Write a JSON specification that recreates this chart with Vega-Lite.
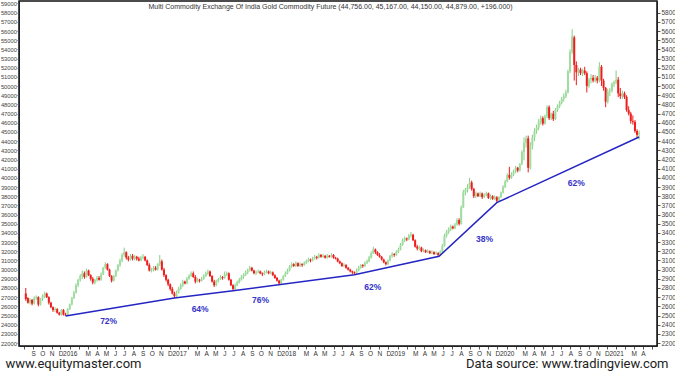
{
"$schema":"https://vega.github.io/schema/vega-lite/v6.json",
"autosize":{"type":"none"},
"width":638,"height":345,
"padding":{"left":19,"top":1,"right":18,"bottom":27},
"background":"white",
"config":{"view":{"stroke":"#111","strokeWidth":1.5}},
"datasets":{
"candles":[
{"d":"2015-08-07","o":27400,"h":28000,"l":26600,"c":26800},
{"d":"2015-08-14","o":26900,"h":27000,"l":26300,"c":26400},
{"d":"2015-08-21","o":26400,"h":26900,"l":26200,"c":26700},
{"d":"2015-08-28","o":26700,"h":26800,"l":26100,"c":26300},
{"d":"2015-09-04","o":26300,"h":27100,"l":26200,"c":26900},
{"d":"2015-09-11","o":26900,"h":27200,"l":26700,"c":27000},
{"d":"2015-09-18","o":27000,"h":27100,"l":26000,"c":26200},
{"d":"2015-09-25","o":26200,"h":26900,"l":26100,"c":26800},
{"d":"2015-10-02","o":26800,"h":27300,"l":26600,"c":27100},
{"d":"2015-10-09","o":27100,"h":27600,"l":26900,"c":27400},
{"d":"2015-10-16","o":27400,"h":27500,"l":26900,"c":27000},
{"d":"2015-10-23","o":27000,"h":27100,"l":26200,"c":26400},
{"d":"2015-10-30","o":26400,"h":26500,"l":25800,"c":25900},
{"d":"2015-11-06","o":25900,"h":26000,"l":25400,"c":25600},
{"d":"2015-11-13","o":25600,"h":25900,"l":25400,"c":25700},
{"d":"2015-11-20","o":25700,"h":25800,"l":25200,"c":25300},
{"d":"2015-11-27","o":25300,"h":25400,"l":25000,"c":25100},
{"d":"2015-12-04","o":25100,"h":25700,"l":25000,"c":25600},
{"d":"2015-12-11","o":25600,"h":25700,"l":25000,"c":25100},
{"d":"2015-12-18","o":25100,"h":25300,"l":24950,"c":25000},
{"d":"2015-12-25","o":25000,"h":25800,"l":24950,"c":25700},
{"d":"2016-01-01","o":25700,"h":26300,"l":25600,"c":26200},
{"d":"2016-01-08","o":26200,"h":27000,"l":26100,"c":26900},
{"d":"2016-01-15","o":26900,"h":27700,"l":26800,"c":27500},
{"d":"2016-01-22","o":27500,"h":28500,"l":27400,"c":28300},
{"d":"2016-01-29","o":28300,"h":29000,"l":28100,"c":28900},
{"d":"2016-02-05","o":28900,"h":29500,"l":28700,"c":29300},
{"d":"2016-02-12","o":29300,"h":29900,"l":29000,"c":29600},
{"d":"2016-02-19","o":29600,"h":29800,"l":29000,"c":29200},
{"d":"2016-02-26","o":29200,"h":30100,"l":29100,"c":29900},
{"d":"2016-03-04","o":29900,"h":30000,"l":29300,"c":29400},
{"d":"2016-03-11","o":29400,"h":29500,"l":28800,"c":29000},
{"d":"2016-03-18","o":29000,"h":29200,"l":28400,"c":28600},
{"d":"2016-03-25","o":28600,"h":29000,"l":28400,"c":28900},
{"d":"2016-04-01","o":28900,"h":29300,"l":28700,"c":29100},
{"d":"2016-04-08","o":29100,"h":29300,"l":28800,"c":28900},
{"d":"2016-04-15","o":28900,"h":29700,"l":28800,"c":29500},
{"d":"2016-04-22","o":29500,"h":30300,"l":29400,"c":30200},
{"d":"2016-04-29","o":30200,"h":30800,"l":30100,"c":30600},
{"d":"2016-05-06","o":30600,"h":30700,"l":29900,"c":30000},
{"d":"2016-05-13","o":30000,"h":30100,"l":29200,"c":29300},
{"d":"2016-05-20","o":29300,"h":29400,"l":28600,"c":28800},
{"d":"2016-05-27","o":28800,"h":29400,"l":28700,"c":29300},
{"d":"2016-06-03","o":29300,"h":30000,"l":29200,"c":29900},
{"d":"2016-06-10","o":29900,"h":30600,"l":29800,"c":30500},
{"d":"2016-06-17","o":30500,"h":31200,"l":30300,"c":31000},
{"d":"2016-06-24","o":31000,"h":31800,"l":30800,"c":31600},
{"d":"2016-07-01","o":31600,"h":32400,"l":31400,"c":31900},
{"d":"2016-07-08","o":31900,"h":32000,"l":31100,"c":31300},
{"d":"2016-07-15","o":31300,"h":31500,"l":30900,"c":31100},
{"d":"2016-07-22","o":31100,"h":31700,"l":31000,"c":31500},
{"d":"2016-07-29","o":31500,"h":31700,"l":31000,"c":31200},
{"d":"2016-08-05","o":31200,"h":31600,"l":31000,"c":31400},
{"d":"2016-08-12","o":31400,"h":31500,"l":31000,"c":31200},
{"d":"2016-08-19","o":31200,"h":31400,"l":30900,"c":31000},
{"d":"2016-08-26","o":31000,"h":31500,"l":30900,"c":31300},
{"d":"2016-09-02","o":31300,"h":31700,"l":31100,"c":31400},
{"d":"2016-09-09","o":31400,"h":31500,"l":30900,"c":31000},
{"d":"2016-09-16","o":31000,"h":31100,"l":30400,"c":30500},
{"d":"2016-09-23","o":30500,"h":30700,"l":29800,"c":29900},
{"d":"2016-09-30","o":29900,"h":30200,"l":29700,"c":30000},
{"d":"2016-10-07","o":30000,"h":30400,"l":29800,"c":30200},
{"d":"2016-10-14","o":30200,"h":30400,"l":29900,"c":30000},
{"d":"2016-10-21","o":30000,"h":30700,"l":29900,"c":30600},
{"d":"2016-10-28","o":30600,"h":31600,"l":30400,"c":30900},
{"d":"2016-11-04","o":30900,"h":31100,"l":29900,"c":30000},
{"d":"2016-11-11","o":30000,"h":30200,"l":29200,"c":29400},
{"d":"2016-11-18","o":29400,"h":29500,"l":28700,"c":28900},
{"d":"2016-11-25","o":28900,"h":29000,"l":28200,"c":28400},
{"d":"2016-12-02","o":28400,"h":28500,"l":27700,"c":27900},
{"d":"2016-12-09","o":27900,"h":28100,"l":27300,"c":27400},
{"d":"2016-12-16","o":27400,"h":27600,"l":26900,"c":27100},
{"d":"2016-12-23","o":27100,"h":27700,"l":27000,"c":27500},
{"d":"2016-12-30","o":27500,"h":28100,"l":27400,"c":27900},
{"d":"2017-01-06","o":27900,"h":28500,"l":27800,"c":28300},
{"d":"2017-01-13","o":28300,"h":28900,"l":28100,"c":28700},
{"d":"2017-01-20","o":28700,"h":28800,"l":28400,"c":28500},
{"d":"2017-01-27","o":28500,"h":29200,"l":28400,"c":29000},
{"d":"2017-02-03","o":29000,"h":29500,"l":28900,"c":29300},
{"d":"2017-02-10","o":29300,"h":29800,"l":29200,"c":29600},
{"d":"2017-02-17","o":29600,"h":29800,"l":29100,"c":29200},
{"d":"2017-02-24","o":29200,"h":29400,"l":28500,"c":28700},
{"d":"2017-03-03","o":28700,"h":29100,"l":28600,"c":28900},
{"d":"2017-03-10","o":28900,"h":29000,"l":28600,"c":28800},
{"d":"2017-03-17","o":28800,"h":29200,"l":28700,"c":29000},
{"d":"2017-03-24","o":29000,"h":29500,"l":28900,"c":29300},
{"d":"2017-03-31","o":29300,"h":29800,"l":29200,"c":29600},
{"d":"2017-04-07","o":29600,"h":30000,"l":29400,"c":29800},
{"d":"2017-04-14","o":29800,"h":29900,"l":29200,"c":29300},
{"d":"2017-04-21","o":29300,"h":29400,"l":28600,"c":28700},
{"d":"2017-04-28","o":28700,"h":28900,"l":28100,"c":28300},
{"d":"2017-05-05","o":28300,"h":28900,"l":28200,"c":28800},
{"d":"2017-05-12","o":28800,"h":29100,"l":28600,"c":29000},
{"d":"2017-05-19","o":29000,"h":29400,"l":28900,"c":29200},
{"d":"2017-05-26","o":29200,"h":29300,"l":28900,"c":29100},
{"d":"2017-06-02","o":29100,"h":29800,"l":29000,"c":29500},
{"d":"2017-06-09","o":29500,"h":29800,"l":29300,"c":29600},
{"d":"2017-06-16","o":29600,"h":29700,"l":28800,"c":28900},
{"d":"2017-06-23","o":28900,"h":29000,"l":28200,"c":28300},
{"d":"2017-06-30","o":28300,"h":28400,"l":27700,"c":27900},
{"d":"2017-07-07","o":27900,"h":28500,"l":27800,"c":28300},
{"d":"2017-07-14","o":28300,"h":28800,"l":28200,"c":28600},
{"d":"2017-07-21","o":28600,"h":29100,"l":28500,"c":28900},
{"d":"2017-07-28","o":28900,"h":29400,"l":28800,"c":29200},
{"d":"2017-08-04","o":29200,"h":29600,"l":29000,"c":29400},
{"d":"2017-08-11","o":29400,"h":29900,"l":29300,"c":29700},
{"d":"2017-08-18","o":29700,"h":30100,"l":29500,"c":29900},
{"d":"2017-08-25","o":29900,"h":30400,"l":29800,"c":30200},
{"d":"2017-09-01","o":30200,"h":30300,"l":29800,"c":29900},
{"d":"2017-09-08","o":29900,"h":30000,"l":29500,"c":29600},
{"d":"2017-09-15","o":29600,"h":29900,"l":29400,"c":29700},
{"d":"2017-09-22","o":29700,"h":30000,"l":29600,"c":29800},
{"d":"2017-09-29","o":29800,"h":29900,"l":29500,"c":29600},
{"d":"2017-10-06","o":29600,"h":29700,"l":29300,"c":29500},
{"d":"2017-10-13","o":29500,"h":29900,"l":29400,"c":29700},
{"d":"2017-10-20","o":29700,"h":30000,"l":29600,"c":29800},
{"d":"2017-10-27","o":29800,"h":29900,"l":29500,"c":29600},
{"d":"2017-11-03","o":29600,"h":29900,"l":29500,"c":29700},
{"d":"2017-11-10","o":29700,"h":29800,"l":29300,"c":29400},
{"d":"2017-11-17","o":29400,"h":29500,"l":29000,"c":29100},
{"d":"2017-11-24","o":29100,"h":29200,"l":28700,"c":28800},
{"d":"2017-12-01","o":28800,"h":28900,"l":28350,"c":28500},
{"d":"2017-12-08","o":28500,"h":29000,"l":28400,"c":28900},
{"d":"2017-12-15","o":28900,"h":29400,"l":28800,"c":29300},
{"d":"2017-12-22","o":29300,"h":29800,"l":29200,"c":29600},
{"d":"2017-12-29","o":29600,"h":30100,"l":29500,"c":29900},
{"d":"2018-01-05","o":29900,"h":30500,"l":29800,"c":30300},
{"d":"2018-01-12","o":30300,"h":30800,"l":30200,"c":30600},
{"d":"2018-01-19","o":30600,"h":30700,"l":30300,"c":30400},
{"d":"2018-01-26","o":30400,"h":30900,"l":30300,"c":30700},
{"d":"2018-02-02","o":30700,"h":30800,"l":30300,"c":30400},
{"d":"2018-02-09","o":30400,"h":30800,"l":30300,"c":30600},
{"d":"2018-02-16","o":30600,"h":30700,"l":30300,"c":30500},
{"d":"2018-02-23","o":30500,"h":30900,"l":30400,"c":30700},
{"d":"2018-03-02","o":30700,"h":31100,"l":30600,"c":30900},
{"d":"2018-03-09","o":30900,"h":31300,"l":30800,"c":31100},
{"d":"2018-03-16","o":31100,"h":31200,"l":30800,"c":31000},
{"d":"2018-03-23","o":31000,"h":31400,"l":30900,"c":31200},
{"d":"2018-03-30","o":31200,"h":31600,"l":31100,"c":31400},
{"d":"2018-04-06","o":31400,"h":31500,"l":31100,"c":31300},
{"d":"2018-04-13","o":31300,"h":31800,"l":31200,"c":31600},
{"d":"2018-04-20","o":31600,"h":31700,"l":31300,"c":31400},
{"d":"2018-04-27","o":31400,"h":31700,"l":31300,"c":31500},
{"d":"2018-05-04","o":31500,"h":31600,"l":31200,"c":31300},
{"d":"2018-05-11","o":31300,"h":31700,"l":31200,"c":31500},
{"d":"2018-05-18","o":31500,"h":31600,"l":31300,"c":31400},
{"d":"2018-05-25","o":31400,"h":31800,"l":31300,"c":31600},
{"d":"2018-06-01","o":31600,"h":31700,"l":31200,"c":31300},
{"d":"2018-06-08","o":31300,"h":31400,"l":31100,"c":31200},
{"d":"2018-06-15","o":31200,"h":31300,"l":30800,"c":30900},
{"d":"2018-06-22","o":30900,"h":31000,"l":30600,"c":30700},
{"d":"2018-06-29","o":30700,"h":30800,"l":30300,"c":30400},
{"d":"2018-07-06","o":30400,"h":30700,"l":30300,"c":30500},
{"d":"2018-07-13","o":30500,"h":30600,"l":30100,"c":30200},
{"d":"2018-07-20","o":30200,"h":30300,"l":29900,"c":30000},
{"d":"2018-07-27","o":30000,"h":30100,"l":29700,"c":29800},
{"d":"2018-08-03","o":29800,"h":29900,"l":29500,"c":29700},
{"d":"2018-08-10","o":29700,"h":29800,"l":29450,"c":29600},
{"d":"2018-08-17","o":29600,"h":30100,"l":29500,"c":29900},
{"d":"2018-08-24","o":29900,"h":30400,"l":29800,"c":30200},
{"d":"2018-08-31","o":30200,"h":30600,"l":30100,"c":30500},
{"d":"2018-09-07","o":30500,"h":30600,"l":30200,"c":30400},
{"d":"2018-09-14","o":30400,"h":30900,"l":30300,"c":30700},
{"d":"2018-09-21","o":30700,"h":31100,"l":30600,"c":30900},
{"d":"2018-09-28","o":30900,"h":31500,"l":30800,"c":31300},
{"d":"2018-10-05","o":31300,"h":32000,"l":31200,"c":31800},
{"d":"2018-10-12","o":31800,"h":32500,"l":31700,"c":32200},
{"d":"2018-10-19","o":32200,"h":32300,"l":31700,"c":31900},
{"d":"2018-10-26","o":31900,"h":32000,"l":31500,"c":31600},
{"d":"2018-11-02","o":31600,"h":31800,"l":31300,"c":31400},
{"d":"2018-11-09","o":31400,"h":31500,"l":31000,"c":31100},
{"d":"2018-11-16","o":31100,"h":31200,"l":30700,"c":30800},
{"d":"2018-11-23","o":30800,"h":30900,"l":30450,"c":30600},
{"d":"2018-11-30","o":30600,"h":31100,"l":30500,"c":31000},
{"d":"2018-12-07","o":31000,"h":31600,"l":30900,"c":31500},
{"d":"2018-12-14","o":31500,"h":31900,"l":31300,"c":31700},
{"d":"2018-12-21","o":31700,"h":31800,"l":31400,"c":31600},
{"d":"2018-12-28","o":31600,"h":32100,"l":31500,"c":31900},
{"d":"2019-01-04","o":31900,"h":32400,"l":31800,"c":32200},
{"d":"2019-01-11","o":32200,"h":32900,"l":32100,"c":32700},
{"d":"2019-01-18","o":32700,"h":33400,"l":32600,"c":33200},
{"d":"2019-01-25","o":33200,"h":33600,"l":33000,"c":33400},
{"d":"2019-02-01","o":33400,"h":33500,"l":33100,"c":33300},
{"d":"2019-02-08","o":33300,"h":33900,"l":33200,"c":33700},
{"d":"2019-02-15","o":33700,"h":34100,"l":33500,"c":33800},
{"d":"2019-02-22","o":33800,"h":33900,"l":33100,"c":33200},
{"d":"2019-03-01","o":33200,"h":33300,"l":32400,"c":32500},
{"d":"2019-03-08","o":32500,"h":32700,"l":32100,"c":32300},
{"d":"2019-03-15","o":32300,"h":32600,"l":32100,"c":32400},
{"d":"2019-03-22","o":32400,"h":32500,"l":31900,"c":32000},
{"d":"2019-03-29","o":32000,"h":32300,"l":31900,"c":32100},
{"d":"2019-04-05","o":32100,"h":32200,"l":31800,"c":31900},
{"d":"2019-04-12","o":31900,"h":32200,"l":31800,"c":32000},
{"d":"2019-04-19","o":32000,"h":32100,"l":31700,"c":31800},
{"d":"2019-04-26","o":31800,"h":32100,"l":31700,"c":31900},
{"d":"2019-05-03","o":31900,"h":32000,"l":31600,"c":31700},
{"d":"2019-05-10","o":31700,"h":32000,"l":31600,"c":31800},
{"d":"2019-05-17","o":31800,"h":31900,"l":31450,"c":31600},
{"d":"2019-05-24","o":31600,"h":32100,"l":31500,"c":32000},
{"d":"2019-05-31","o":32000,"h":32800,"l":31900,"c":32600},
{"d":"2019-06-07","o":32600,"h":33900,"l":32500,"c":33700},
{"d":"2019-06-14","o":33700,"h":34300,"l":33500,"c":34100},
{"d":"2019-06-21","o":34100,"h":34600,"l":33900,"c":34400},
{"d":"2019-06-28","o":34400,"h":34900,"l":34200,"c":34700},
{"d":"2019-07-05","o":34700,"h":34800,"l":34400,"c":34500},
{"d":"2019-07-12","o":34500,"h":35100,"l":34400,"c":34900},
{"d":"2019-07-19","o":34900,"h":35600,"l":34800,"c":35400},
{"d":"2019-07-26","o":35400,"h":35600,"l":34800,"c":35000},
{"d":"2019-08-02","o":35000,"h":37000,"l":34900,"c":36800},
{"d":"2019-08-09","o":36800,"h":38700,"l":36700,"c":38400},
{"d":"2019-08-16","o":38400,"h":38900,"l":38100,"c":38700},
{"d":"2019-08-23","o":38700,"h":39300,"l":38400,"c":39000},
{"d":"2019-08-30","o":39000,"h":40000,"l":38800,"c":39500},
{"d":"2019-09-06","o":39500,"h":39700,"l":38600,"c":38800},
{"d":"2019-09-13","o":38800,"h":38900,"l":37800,"c":38000},
{"d":"2019-09-20","o":38000,"h":38500,"l":37800,"c":38300},
{"d":"2019-09-27","o":38300,"h":38400,"l":37900,"c":38000},
{"d":"2019-10-04","o":38000,"h":38500,"l":37900,"c":38300},
{"d":"2019-10-11","o":38300,"h":38400,"l":37700,"c":37900},
{"d":"2019-10-18","o":37900,"h":38300,"l":37800,"c":38100},
{"d":"2019-10-25","o":38100,"h":38500,"l":38000,"c":38300},
{"d":"2019-11-01","o":38300,"h":38400,"l":37700,"c":37800},
{"d":"2019-11-08","o":37800,"h":38200,"l":37600,"c":38000},
{"d":"2019-11-15","o":38000,"h":38100,"l":37600,"c":37700},
{"d":"2019-11-22","o":37700,"h":38100,"l":37600,"c":37900},
{"d":"2019-11-29","o":37900,"h":38000,"l":37300,"c":37500},
{"d":"2019-12-06","o":37500,"h":38000,"l":37400,"c":37900},
{"d":"2019-12-13","o":37900,"h":38500,"l":37800,"c":38400},
{"d":"2019-12-20","o":38400,"h":39200,"l":38300,"c":39000},
{"d":"2019-12-27","o":39000,"h":39800,"l":38900,"c":39600},
{"d":"2020-01-03","o":39600,"h":40500,"l":39500,"c":40300},
{"d":"2020-01-10","o":40300,"h":41200,"l":39800,"c":40000},
{"d":"2020-01-17","o":40000,"h":40600,"l":39900,"c":40400},
{"d":"2020-01-24","o":40400,"h":40900,"l":40200,"c":40700},
{"d":"2020-01-31","o":40700,"h":41300,"l":40500,"c":41100},
{"d":"2020-02-07","o":41100,"h":41200,"l":40600,"c":40800},
{"d":"2020-02-14","o":40800,"h":41600,"l":40700,"c":41500},
{"d":"2020-02-21","o":41500,"h":43000,"l":41400,"c":42800},
{"d":"2020-02-28","o":42800,"h":44400,"l":41900,"c":43800},
{"d":"2020-03-06","o":43800,"h":44600,"l":43300,"c":44300},
{"d":"2020-03-13","o":44300,"h":44600,"l":40600,"c":41100},
{"d":"2020-03-20","o":41100,"h":43900,"l":40900,"c":43500},
{"d":"2020-03-27","o":43500,"h":44700,"l":43100,"c":44400},
{"d":"2020-04-03","o":44400,"h":45400,"l":44000,"c":45100},
{"d":"2020-04-10","o":45100,"h":45800,"l":44800,"c":45500},
{"d":"2020-04-17","o":45500,"h":46400,"l":45200,"c":46100},
{"d":"2020-04-24","o":46100,"h":46800,"l":45800,"c":46500},
{"d":"2020-05-01","o":46500,"h":46700,"l":45700,"c":45900},
{"d":"2020-05-08","o":45900,"h":46900,"l":45800,"c":46700},
{"d":"2020-05-15","o":46700,"h":47900,"l":46500,"c":47700},
{"d":"2020-05-22","o":47700,"h":47900,"l":46300,"c":46500},
{"d":"2020-05-29","o":46500,"h":47100,"l":46300,"c":47000},
{"d":"2020-06-05","o":47000,"h":47300,"l":46200,"c":46400},
{"d":"2020-06-12","o":46400,"h":47600,"l":46300,"c":47400},
{"d":"2020-06-19","o":47400,"h":48000,"l":47200,"c":47800},
{"d":"2020-06-26","o":47800,"h":48400,"l":47600,"c":48200},
{"d":"2020-07-03","o":48200,"h":48800,"l":48000,"c":48600},
{"d":"2020-07-10","o":48600,"h":49200,"l":48300,"c":48900},
{"d":"2020-07-17","o":48900,"h":49600,"l":48700,"c":49300},
{"d":"2020-07-24","o":49300,"h":51800,"l":49200,"c":51600},
{"d":"2020-07-31","o":51600,"h":54000,"l":51400,"c":53700},
{"d":"2020-08-07","o":53700,"h":56200,"l":53500,"c":55400},
{"d":"2020-08-14","o":55300,"h":55500,"l":50600,"c":52300},
{"d":"2020-08-21","o":52300,"h":52700,"l":50100,"c":51500},
{"d":"2020-08-28","o":51500,"h":52000,"l":51100,"c":51800},
{"d":"2020-09-04","o":51800,"h":52000,"l":51200,"c":51400},
{"d":"2020-09-11","o":51400,"h":51900,"l":51100,"c":51700},
{"d":"2020-09-18","o":51700,"h":52100,"l":51200,"c":51400},
{"d":"2020-09-25","o":51400,"h":51600,"l":49300,"c":50000},
{"d":"2020-10-02","o":50000,"h":50900,"l":49800,"c":50700},
{"d":"2020-10-09","o":50700,"h":51300,"l":50300,"c":50900},
{"d":"2020-10-16","o":50900,"h":51200,"l":50400,"c":50600},
{"d":"2020-10-23","o":50600,"h":51200,"l":50400,"c":50900},
{"d":"2020-10-30","o":50900,"h":51100,"l":50300,"c":50600},
{"d":"2020-11-06","o":50600,"h":52600,"l":50400,"c":52100},
{"d":"2020-11-13","o":52100,"h":52300,"l":50000,"c":50600},
{"d":"2020-11-20","o":50600,"h":50800,"l":49500,"c":49800},
{"d":"2020-11-27","o":49800,"h":49900,"l":47700,"c":48300},
{"d":"2020-12-04","o":48300,"h":49700,"l":48100,"c":49400},
{"d":"2020-12-11","o":49400,"h":49800,"l":48900,"c":49500},
{"d":"2020-12-18","o":49500,"h":50400,"l":49300,"c":50200},
{"d":"2020-12-25","o":50200,"h":50600,"l":49900,"c":50400},
{"d":"2021-01-01","o":50400,"h":51700,"l":50200,"c":50700},
{"d":"2021-01-08","o":50700,"h":51000,"l":48800,"c":49200},
{"d":"2021-01-15","o":49200,"h":49800,"l":48600,"c":48900},
{"d":"2021-01-22","o":48900,"h":49500,"l":48600,"c":49200},
{"d":"2021-01-29","o":49200,"h":49400,"l":48600,"c":48800},
{"d":"2021-02-05","o":48800,"h":49000,"l":47200,"c":47400},
{"d":"2021-02-12","o":47400,"h":47800,"l":46800,"c":47000},
{"d":"2021-02-19","o":47000,"h":47200,"l":45900,"c":46200},
{"d":"2021-02-26","o":46200,"h":46800,"l":45800,"c":46100},
{"d":"2021-03-05","o":46100,"h":46300,"l":44900,"c":45100},
{"d":"2021-03-12","o":45100,"h":45300,"l":44300,"c":44683},
{"d":"2021-03-19","o":44756,"h":45167,"l":44150,"c":44879}
],
"trend":[
{"d":"2015-12-18","v":24950},
{"d":"2016-12-16","v":26900},
{"d":"2017-06-30","v":27700},
{"d":"2018-08-10","v":29450},
{"d":"2019-05-20","v":31450},
{"d":"2019-11-29","v":37300},
{"d":"2021-03-19","v":44450}
],
"pct":[
{"d":"2016-05-10","v":24400,"t":"72%"},
{"d":"2017-03-12","v":25700,"t":"64%"},
{"d":"2017-09-30","v":26700,"t":"76%"},
{"d":"2018-10-10","v":28100,"t":"62%"},
{"d":"2019-10-19","v":33330,"t":"38%"},
{"d":"2020-08-21","v":39440,"t":"62%"}
]
},
"encoding":{
"x":{"field":"d","type":"temporal",
"scale":{"type":"utc","domain":[{"year":2015,"month":8,"date":1,"utc":true},{"year":2021,"month":5,"date":1,"utc":true}],"nice":false},
"axis":{"orient":"bottom","tickCount":{"interval":"month","step":1},
"labelExpr":"((utcyear(datum.value)==2015 && utcmonth(datum.value)==7) || (utcyear(datum.value)==2021 && utcmonth(datum.value)==4)) ? '' : utcmonth(datum.value)==0 ? ''+utcyear(datum.value) : utcmonth(datum.value)==1 ? '' : substring(utcFormat(datum.value,'%b'),0,1)",
"labelFont":"Liberation Sans","labelFontSize":6.5,"labelColor":"#333","labelPadding":1,"labelOverlap":false,"labelFlush":false,
"tickSize":3,"tickColor":"#555","domainColor":"#222","grid":false,
"title":"Data source: www.tradingview.com","titleFont":"Roboto","titleFontSize":13,"titleFontWeight":"normal","titleColor":"#222",
"titleAlign":"right","titleAnchor":"end","titleBaseline":"alphabetic","titleX":649,"titleY":21}}
},
"layer":[
{
"data":{"name":"candles"},
"mark":{"type":"rule","strokeWidth":1},
"encoding":{
"y":{"field":"l","type":"quantitative",
"scale":{"domain":[21680,59270],"nice":false,"zero":false},
"axis":{"orient":"left","values":[22000,23000,24000,25000,26000,27000,28000,29000,30000,31000,32000,33000,34000,35000,36000,37000,38000,39000,40000,41000,42000,43000,44000,45000,46000,47000,48000,49000,50000,51000,52000,53000,54000,55000,56000,57000,58000,59000],
"format":"d","labelFont":"Liberation Sans","labelFontSize":5.8,"labelColor":"#444","labelPadding":0.5,"labelOverlap":false,
"tickSize":2,"tickColor":"#555","domainColor":"#222","grid":false,
"title":"www.equitymaster.com","titleAngle":0,"titleAlign":"left","titleBaseline":"alphabetic","titleX":-14,"titleY":366,
"titleFont":"Roboto","titleFontSize":13,"titleFontWeight":"normal","titleColor":"#222"}},
"y2":{"field":"h"},
"color":{"condition":{"test":"datum.c >= datum.o","value":"#86cf86"},"value":"#ee1c1c"}
}
},
{
"data":{"name":"candles"},
"mark":{"type":"bar","size":2},
"encoding":{
"y":{"field":"o","type":"quantitative","scale":{"domain":[21680,59270],"nice":false,"zero":false},
"axis":{"orient":"right","values":[22000,23000,24000,25000,26000,27000,28000,29000,30000,31000,32000,33000,34000,35000,36000,37000,38000,39000,40000,41000,42000,43000,44000,45000,46000,47000,48000,49000,50000,51000,52000,53000,54000,55000,56000,57000,58000],
"labelExpr":"format(datum.value/10,'d')","labelFont":"Liberation Sans","labelFontSize":6.5,"labelColor":"#444","labelPadding":1,"labelOverlap":false,
"tickSize":3,"tickColor":"#555","domainColor":"#222","grid":false,
"title":"Multi Commodity Exchange Of India Gold Commodity Future (44,756.00, 45,167.00, 44,150.00, 44,879.00, +196.000)",
"titleAngle":0,"titleAlign":"center","titleBaseline":"middle","titleX":-327,"titleY":5,
"titleFont":"Liberation Sans","titleFontSize":7,"titleFontWeight":"normal","titleColor":"#333"}},
"y2":{"field":"c"},
"color":{"condition":{"test":"datum.c >= datum.o","value":"#9fdc9f"},"value":"#ee1c1c"}
}
},
{
"data":{"name":"trend"},
"mark":{"type":"line","color":"#2525c4","strokeWidth":1.5},
"encoding":{
"y":{"field":"v","type":"quantitative","scale":{"domain":[21680,59270],"nice":false,"zero":false},"axis":null}
}
},
{
"data":{"name":"pct"},
"mark":{"type":"text","color":"#3434c8","font":"Liberation Sans","fontSize":8.5,"fontWeight":"bold","align":"center","baseline":"middle"},
"encoding":{
"y":{"field":"v","type":"quantitative","scale":{"domain":[21680,59270],"nice":false,"zero":false},"axis":null},
"text":{"field":"t"}
}
}
],
"resolve":{"scale":{"x":"shared","y":"shared"},"axis":{"y":"independent"}}
}
